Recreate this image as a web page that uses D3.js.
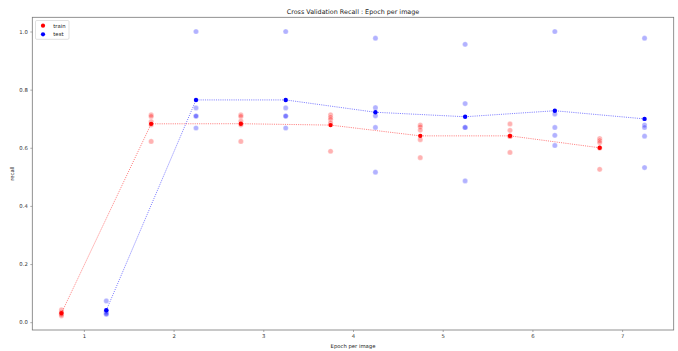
<!DOCTYPE html>
<html>
<head>
<meta charset="utf-8">
<script src="https://cdn.jsdelivr.net/npm/d3@7"></script>
<style>
  html, body { margin: 0; padding: 0; background: #fff; }
  svg { display: block; font-family: "DejaVu Sans", sans-serif; }
</style>
</head>
<body>
<svg id="chart" width="678" height="351"></svg>
<script>
// Recall per fold for each epoch setting; train and test are offset by ±0.25
const trainX = [0.75, 1.75, 2.75, 3.75, 4.75, 5.75, 6.75];
const testX  = [1.25, 2.25, 3.25, 4.25, 5.25, 6.25, 7.25];

const trainFolds = [
  [0.042, 0.035, 0.030, 0.027, 0.022],
  [0.713, 0.708, 0.690, 0.679, 0.622],
  [0.713, 0.708, 0.692, 0.679, 0.622],
  [0.713, 0.705, 0.698, 0.686, 0.588],
  [0.678, 0.672, 0.661, 0.628, 0.566],
  [0.682, 0.660, 0.640, 0.639, 0.584],
  [0.632, 0.625, 0.618, 0.599, 0.526]
];
const testFolds = [
  [0.073, 0.040, 0.035, 0.030, 0.027],
  [1.000, 0.737, 0.709, 0.709, 0.668],
  [1.000, 0.737, 0.709, 0.709, 0.668],
  [0.977, 0.738, 0.710, 0.670, 0.516],
  [0.956, 0.752, 0.670, 0.670, 0.486],
  [1.000, 0.716, 0.670, 0.643, 0.608],
  [0.977, 0.678, 0.670, 0.640, 0.532]
];

const xTicks = [1, 2, 3, 4, 5, 6, 7];
const yTicks = [0.0, 0.2, 0.4, 0.6, 0.8, 1.0];
const seriesNames = ["train", "test"];
const seriesColors = ["#ff0000", "#0000ff"];

const svg = d3.select("#chart");
const plot = { left: 32.3, right: 673.7, top: 17.3, bottom: 330 };

// matplotlib-style 5% margins around the data extent
const allX = trainX.concat(testX);
const allY = trainFolds.flat().concat(testFolds.flat());
function padded(ext) { const m = (ext[1] - ext[0]) * 0.05; return [ext[0] - m, ext[1] + m]; }

const x = d3.scaleLinear().domain(padded(d3.extent(allX))).range([plot.left, plot.right]);
const y = d3.scaleLinear().domain(padded(d3.extent(allY))).range([plot.bottom, plot.top]);

const series = [
  { name: seriesNames[0], color: seriesColors[0], xs: trainX, folds: trainFolds },
  { name: seriesNames[1], color: seriesColors[1], xs: testX, folds: testFolds }
];

series.forEach(s => {
  const means = s.xs.map((xv, i) => ({ x: xv, y: d3.mean(s.folds[i]) }));
  const pts = [];
  s.xs.forEach((xv, i) => s.folds[i].forEach(v => pts.push({ x: xv, y: v })));

  const g = svg.append("g");
  g.selectAll("circle.fold").data(pts).enter().append("circle")
    .attr("class", "fold")
    .attr("cx", d => x(d.x)).attr("cy", d => y(d.y)).attr("r", 2.6)
    .attr("fill", s.color).attr("fill-opacity", 0.3)
    .attr("stroke", "#fff").attr("stroke-width", 0.3);

  g.append("path").datum(means)
    .attr("d", d3.line().x(d => x(d.x)).y(d => y(d.y)))
    .attr("fill", "none").attr("stroke", s.color).attr("stroke-opacity", 0.55)
    .attr("stroke-width", 0.9).attr("stroke-dasharray", "1.1,1.1");

  g.selectAll("circle.mean").data(means).enter().append("circle")
    .attr("class", "mean")
    .attr("cx", d => x(d.x)).attr("cy", d => y(d.y)).attr("r", 2.2)
    .attr("fill", s.color);
});

// axes frame
svg.append("rect")
  .attr("x", plot.left).attr("y", plot.top)
  .attr("width", plot.right - plot.left).attr("height", plot.bottom - plot.top)
  .attr("fill", "none").attr("stroke", "#777").attr("stroke-width", 0.8);

const xAxis = svg.append("g").attr("transform", `translate(0,${plot.bottom})`)
  .call(d3.axisBottom(x).tickValues(xTicks).tickFormat(d3.format("d")).tickSize(2).tickPadding(2));
const yAxis = svg.append("g").attr("transform", `translate(${plot.left},0)`)
  .call(d3.axisLeft(y).tickValues(yTicks).tickFormat(d3.format(".1f")).tickSize(2).tickPadding(2.5));
[xAxis, yAxis].forEach(a => {
  a.select(".domain").remove();
  a.selectAll(".tick line").attr("stroke", "#777").attr("stroke-width", 0.6);
  a.selectAll(".tick text").attr("fill", "#333").style("font-size", "5.3px")
    .style("font-family", "DejaVu Sans, sans-serif");
});

// title and axis labels
svg.append("text").attr("x", (plot.left + plot.right) / 2).attr("y", 14)
  .attr("text-anchor", "middle").attr("fill", "#222").style("font-size", "6.4px")
  .text("Cross Validation Recall : Epoch per image");
svg.append("text").attr("x", (plot.left + plot.right) / 2).attr("y", 348)
  .attr("text-anchor", "middle").attr("fill", "#222").style("font-size", "5.3px")
  .text("Epoch per image");
svg.append("text")
  .attr("transform", `translate(14,${(plot.top + plot.bottom) / 2}) rotate(-90)`)
  .attr("text-anchor", "middle").attr("fill", "#222").style("font-size", "5.3px")
  .text("recall");

// legend
const lg = svg.append("g").attr("transform", "translate(35.5,20.5)");
lg.append("rect").attr("width", 33.5).attr("height", 18.8).attr("rx", 1.2)
  .attr("fill", "#fff").attr("fill-opacity", 0.8).attr("stroke", "#ccc").attr("stroke-width", 0.6);
series.forEach((s, i) => {
  lg.append("circle").attr("cx", 7.5).attr("cy", 5.2 + i * 8.6).attr("r", 2.1).attr("fill", s.color);
  lg.append("text").attr("x", 17.8).attr("y", 5.2 + i * 8.6).attr("dy", "0.35em")
    .attr("fill", "#222").style("font-size", "5.3px").text(s.name);
});
</script>
</body>
</html>
